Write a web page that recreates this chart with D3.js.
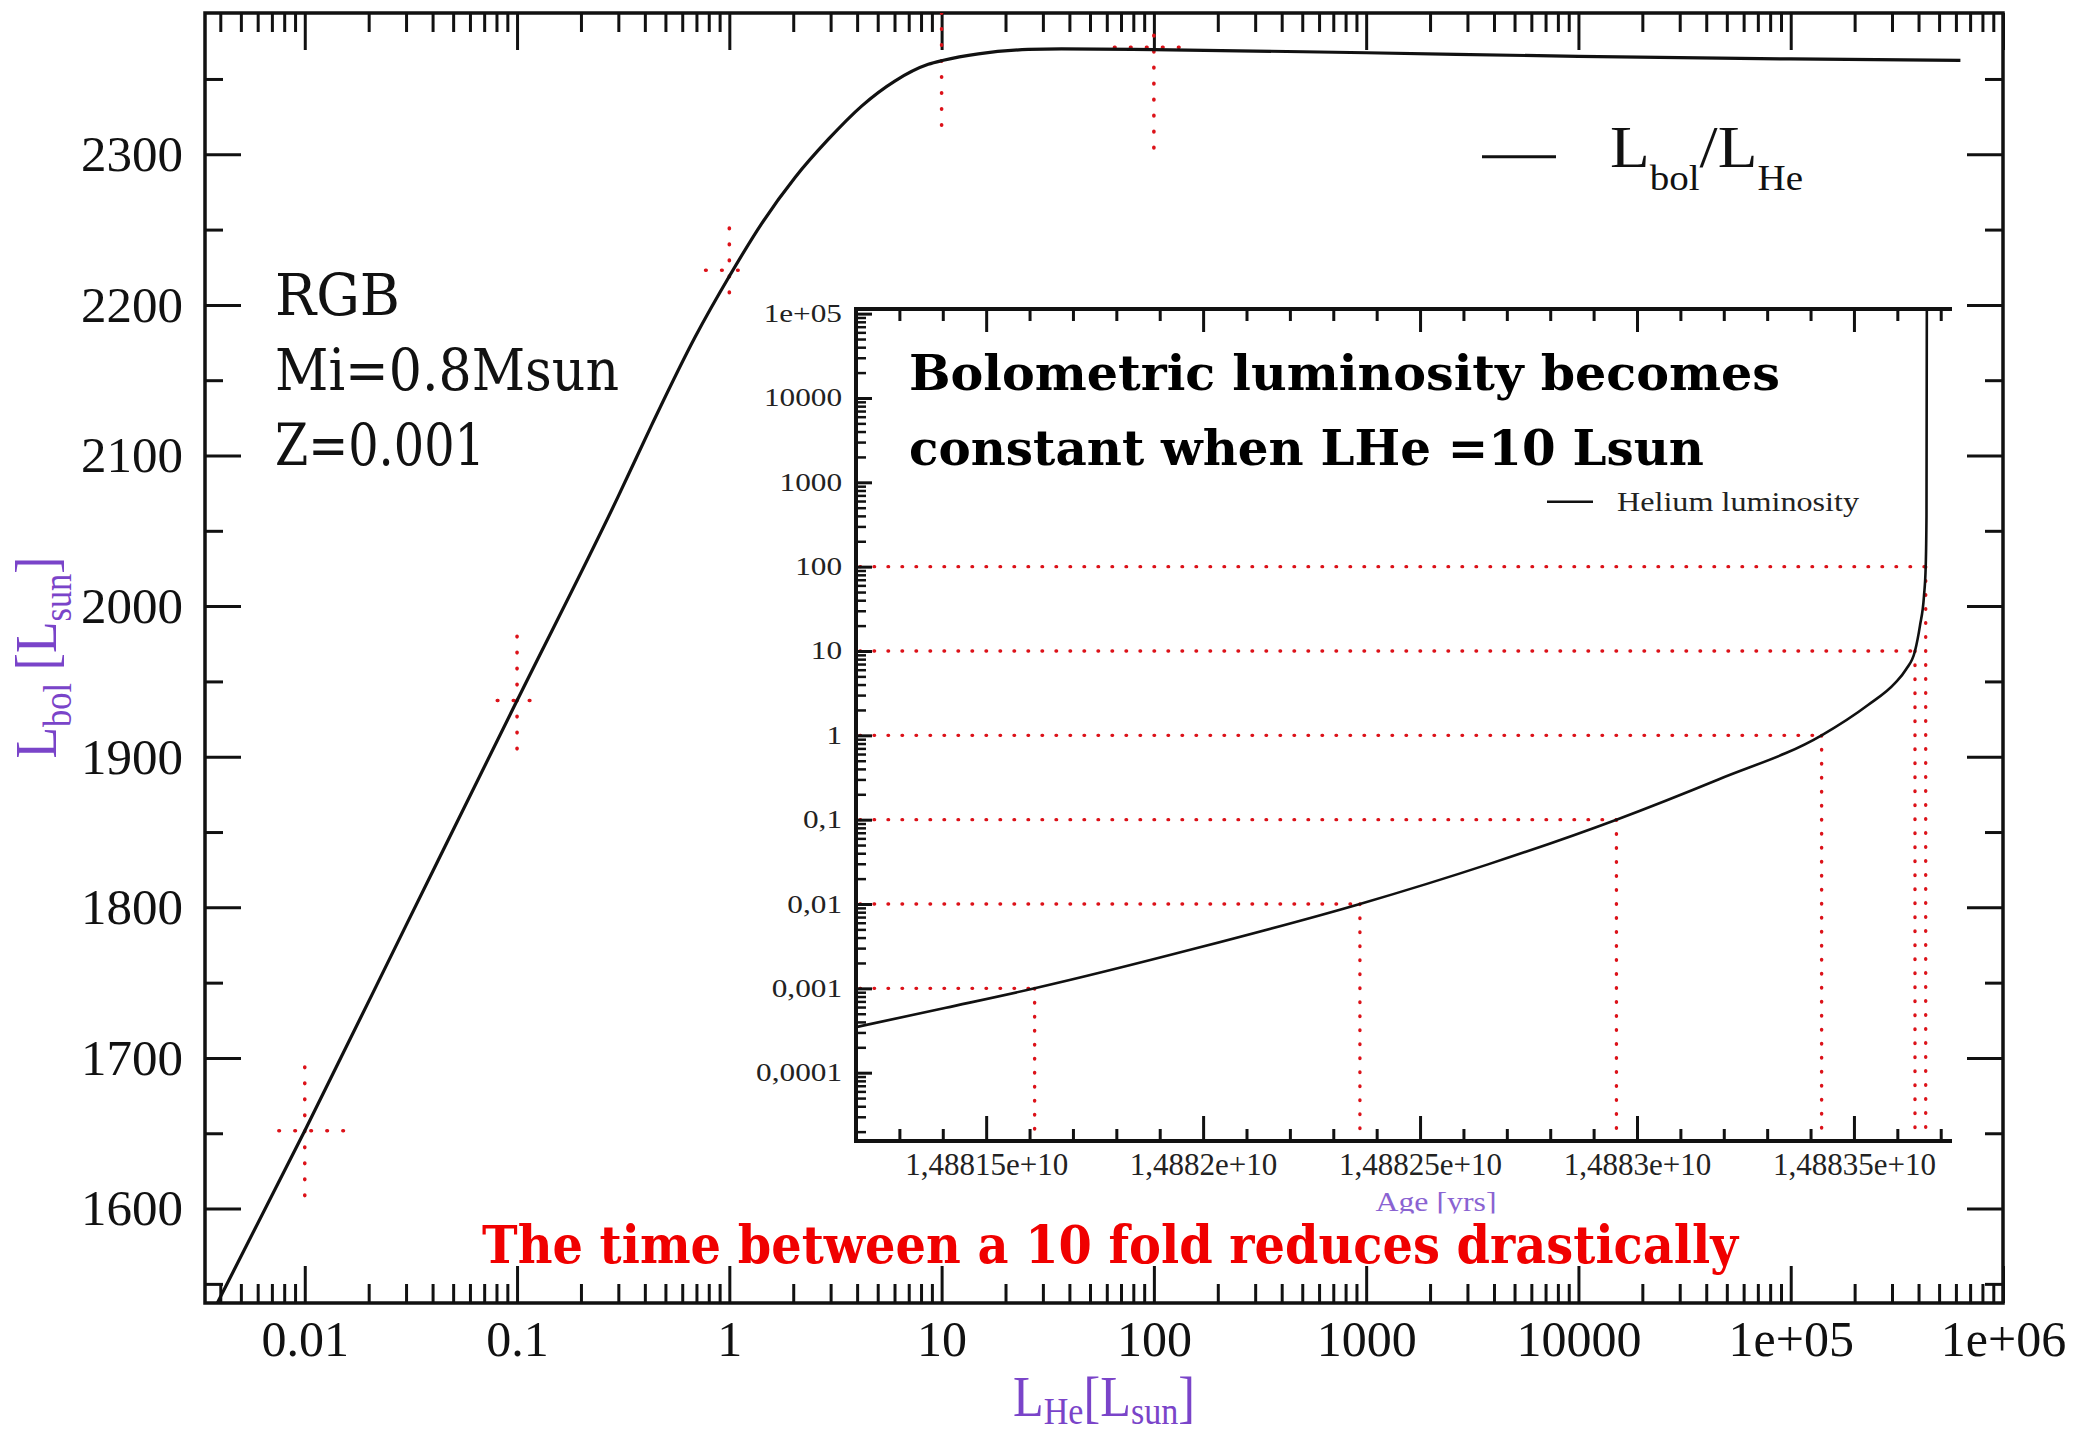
<!DOCTYPE html>
<html><head><meta charset="utf-8">
<script src="https://cdn.jsdelivr.net/npm/d3@7"></script>
<style>body{margin:0;background:#fff} svg{display:block}</style>
</head><body>
<svg id="c" width="2073" height="1434"></svg>
<script>
// ---------- DATA ----------
// Main plot: bolometric luminosity vs helium luminosity
const lHeMain  = [0.0038, 0.01, 0.03, 0.1, 0.3, 0.43, 0.689, 1, 1.42, 2.04, 2.93, 4.2, 6.02, 8.65, 10.2, 14.9, 25.6, 36.7, 100, 1000, 10000, 100000, 630000];
const lBolMain = [1535, 1651.7, 1788, 1937.3, 2073, 2120, 2178.5, 2219, 2254, 2284.6, 2310, 2332, 2348.6, 2359.7, 2362.4, 2366.7, 2369.6, 2370, 2369.5, 2367.4, 2365.0, 2363.3, 2362.4];

// Red dotted marker crosses on main plot
const crossX   = [0.01, 0.1, 1, 10, 100];
const crossY   = [1651.7, 1937.3, 2223, null, 2371];
const crossVLo = [1606, 1903.5, 2206.5, 2318, 2300.5];
const crossVHi = [1694, 1980, 2251, 2394, 2379];
const crossHLo = [0.00755, 0.0807, 0.773, null, 65.2];
const crossHHi = [0.0156, 0.1186, 1.10, null, 131.5];

// Main axes ticks
const xMajorMain = [0.01, 0.1, 1, 10, 100, 1000, 10000, 1e5, 1e6];
const xLabelsMain = ["0.01", "0.1", "1", "10", "100", "1000", "10000", "1e+05", "1e+06"];
const yMajorMain = [1600, 1700, 1800, 1900, 2000, 2100, 2200, 2300];
const yLabelsMain = ["1600", "1700", "1800", "1900", "2000", "2100", "2200", "2300"];
const yMinorMain = [1550, 1650, 1750, 1850, 1950, 2050, 2150, 2250, 2350];

// Inset: helium luminosity vs age
const ageHe = [1.48812e10, 1.48814074e10, 1.48816117e10, 1.48819882e10, 1.48823614e10, 1.48826566e10, 1.48829526e10, 1.4883189e10, 1.48834255e10, 1.48835324e10, 1.48835946e10, 1.48836199e10, 1.48836407e10, 1.48836522e10, 1.48836614e10, 1.48836654e10, 1.48836672e10, 1.4883668e10];
const lumHe = [3.47e-4, 5.89e-4, 1e-3, 3.02e-3, 0.01, 0.0295, 0.1, 0.302, 1, 2.29, 4.17, 6.03, 10, 20, 44.7, 100, 398, 1.13e5];

// Inset 10-fold levels and the ages where they are reached
const levels    = [0.001, 0.01, 0.1, 1, 10, 100];
const levelAges = [1.48816117e10, 1.48823614e10, 1.48829526e10, 1.48834255e10, 1.48836407e10, 1.48836654e10];

// Inset ticks
const ixMajor  = [1.48815e10, 1.4882e10, 1.48825e10, 1.4883e10, 1.48835e10];
const ixLabels = ["1,48815e+10", "1,4882e+10", "1,48825e+10", "1,4883e+10", "1,48835e+10"];
const iyMajor  = [1e5, 1e4, 1e3, 100, 10, 1, 0.1, 0.01, 0.001, 0.0001];
const iyLabels = ["1e+05", "10000", "1000", "100", "10", "1", "0,1", "0,01", "0,001", "0,0001"];

// ---------- DRAWING ----------
const svg = d3.select("#c");
svg.append("rect").attr("width", 2073).attr("height", 1434).attr("fill", "#fff");

const INK = "#111";
const RED = "#dc1219";
const PURPLE = "#7a44c9";
const SERIF = "'Liberation Serif', 'Times New Roman', serif";
const DJV = "'DejaVu Serif', serif";

// scales
const mx = d3.scaleLog().domain([Math.pow(10, -2.47), 1e6]).range([205, 2003]);
const my = d3.scaleLinear().domain([1537.3, 2393.8]).range([1303, 13]);
const ix = d3.scaleLinear().domain([1.48812e10, 1.4883726e10]).range([856, 1952]);
const iy = d3.scaleLog().domain([Math.pow(10, -4.81), Math.pow(10, 5.055)]).range([1141, 309]);

const defs = svg.append("defs");
defs.append("clipPath").attr("id", "mclip").append("rect")
  .attr("x", 205).attr("y", 13).attr("width", 1798).attr("height", 1290);
defs.append("clipPath").attr("id", "ageclip").append("rect")
  .attr("x", 1300).attr("y", 1150).attr("width", 300).attr("height", 63.5);

function clean(g, w) {
  g.select(".domain").remove();
  g.selectAll(".tick line").attr("stroke", INK).attr("stroke-width", w);
  g.selectAll(".tick text").attr("fill", INK);
  g.selectAll(".tick text").filter(function () { return !this.textContent; }).remove();
}
// horizontally scale a text element (anchored at x,y) to a target width
function fitWidth(t, x, y, target) {
  const w = t.node().getComputedTextLength();
  t.attr("transform", `translate(${x},${y}) scale(${target / w},1)`);
}

// minor tick values
const xMinorMain = [];
for (let d = -3; d <= 5; d++) for (let k = 2; k <= 9; k++) {
  const v = k * Math.pow(10, d);
  if (v > mx.domain()[0] && v < 1e6) xMinorMain.push(v);
}
const iyMinor = [];
for (let d = -5; d <= 4; d++) for (let k = 2; k <= 9; k++) {
  const v = k * Math.pow(10, d);
  if (v > iy.domain()[0] && v < iy.domain()[1]) iyMinor.push(v);
}
const ixMinor = d3.range(1.48813e10, 1.48837e10 + 1, 1e5).filter(v => !ixMajor.some(m => Math.abs(m - v) < 10));

// ---- main axes ----
svg.append("g").attr("transform", "translate(0,1303)")
  .call(d3.axisBottom(mx).tickValues(xMajorMain).tickFormat((d, i) => xLabelsMain[i]).tickSize(-37).tickPadding(17).tickSizeOuter(0))
  .call(g => clean(g, 3))
  .attr("font-family", SERIF).attr("font-size", 50);
svg.append("g").attr("transform", "translate(0,1303)")
  .call(d3.axisBottom(mx).tickValues(xMinorMain).tickFormat("").tickSize(-19).tickSizeOuter(0))
  .call(g => clean(g, 3));
svg.append("g").attr("transform", "translate(0,13)")
  .call(d3.axisTop(mx).tickValues(xMajorMain).tickFormat("").tickSize(-37).tickSizeOuter(0))
  .call(g => clean(g, 3));
svg.append("g").attr("transform", "translate(0,13)")
  .call(d3.axisTop(mx).tickValues(xMinorMain).tickFormat("").tickSize(-19).tickSizeOuter(0))
  .call(g => clean(g, 3));

svg.append("g").attr("transform", "translate(205,0)")
  .call(d3.axisLeft(my).tickValues(yMajorMain).tickFormat((d, i) => yLabelsMain[i]).tickSize(-36).tickPadding(22).tickSizeOuter(0))
  .call(g => clean(g, 3))
  .attr("font-family", SERIF).attr("font-size", 51);
svg.append("g").attr("transform", "translate(205,0)")
  .call(d3.axisLeft(my).tickValues(yMinorMain).tickFormat("").tickSize(-18).tickSizeOuter(0))
  .call(g => clean(g, 3));
svg.append("g").attr("transform", "translate(2003,0)")
  .call(d3.axisRight(my).tickValues(yMajorMain).tickFormat("").tickSize(-36).tickSizeOuter(0))
  .call(g => clean(g, 3));
svg.append("g").attr("transform", "translate(2003,0)")
  .call(d3.axisRight(my).tickValues(yMinorMain).tickFormat("").tickSize(-18).tickSizeOuter(0))
  .call(g => clean(g, 3));

// frame
svg.append("rect").attr("x", 205).attr("y", 13).attr("width", 1798).attr("height", 1290)
  .attr("fill", "none").attr("stroke", INK).attr("stroke-width", 3.5);

// main red crosses
const crossG = svg.append("g").attr("stroke", RED).attr("stroke-width", 3.6)
  .attr("stroke-linecap", "round").attr("stroke-dasharray", "0.6,15.4").attr("clip-path", "url(#mclip)");
crossX.forEach((cx, i) => {
  crossG.append("line").attr("x1", mx(cx)).attr("x2", mx(cx))
    .attr("y1", my(crossVHi[i])).attr("y2", my(crossVLo[i]));
  if (crossHLo[i] !== null) {
    crossG.append("line").attr("x1", mx(crossHLo[i])).attr("x2", mx(crossHHi[i]))
      .attr("y1", my(crossY[i])).attr("y2", my(crossY[i]));
  }
});

// main curve
svg.append("path").datum(d3.zip(lHeMain, lBolMain))
  .attr("clip-path", "url(#mclip)")
  .attr("d", d3.line().x(d => mx(d[0])).y(d => my(d[1])).curve(d3.curveMonotoneX))
  .attr("fill", "none").attr("stroke", INK).attr("stroke-width", 3.2);

// main legend
svg.append("line").attr("x1", 1482).attr("x2", 1556).attr("y1", 156.7).attr("y2", 156.7)
  .attr("stroke", INK).attr("stroke-width", 3);
{
  const t = svg.append("text").attr("font-family", SERIF).attr("fill", INK);
  t.append("tspan").attr("font-size", 60).text("L");
  t.append("tspan").attr("font-size", 36).attr("dy", 23).text("bol");
  t.append("tspan").attr("font-size", 60).attr("dy", -23).text("/L");
  t.append("tspan").attr("font-size", 36).attr("dy", 23).text("He");
  fitWidth(t, 1610, 166.7, 193);
}

// axis titles
{
  const t = svg.append("text").attr("text-anchor", "middle").attr("font-family", SERIF).attr("fill", PURPLE);
  t.append("tspan").attr("font-size", 56).text("L");
  t.append("tspan").attr("font-size", 38).attr("dy", 8).text("He");
  t.append("tspan").attr("font-size", 56).attr("dy", -8).text("[L");
  t.append("tspan").attr("font-size", 38).attr("dy", 8).text("sun");
  t.append("tspan").attr("font-size", 56).attr("dy", -8).text("]");
  fitWidth(t, 1104, 1416, 182);
}
{
  const t = svg.append("text").attr("text-anchor", "middle").attr("font-family", SERIF).attr("fill", PURPLE);
  t.append("tspan").attr("font-size", 60).text("L");
  t.append("tspan").attr("font-size", 40).attr("dy", 15).text("bol");
  t.append("tspan").attr("font-size", 60).attr("dy", -15).text(" [L");
  t.append("tspan").attr("font-size", 40).attr("dy", 15).text("sun");
  t.append("tspan").attr("font-size", 60).attr("dy", -15).text("]");
  const w = t.node().getComputedTextLength();
  t.attr("transform", `translate(56,657.5) rotate(-90) scale(${202 / w},1)`);
}

// RGB annotation
const rgbLines = ["RGB", "Mi=0.8Msun", "Z=0.001"];
const rgbY = [315, 390, 465], rgbW = [125, 344, 210];
rgbLines.forEach((s, i) => {
  svg.append("text").attr("x", 275).attr("y", rgbY[i]).attr("font-family", DJV).attr("font-size", 57)
    .attr("fill", INK).attr("textLength", rgbW[i]).attr("lengthAdjust", "spacingAndGlyphs").text(s);
});

// ---------- INSET ----------
const levG = svg.append("g").attr("stroke", RED).attr("stroke-width", 3.4)
  .attr("stroke-linecap", "round").attr("stroke-dasharray", "0.6,13.4");
levels.forEach((lv, i) => {
  levG.append("line").attr("x1", 860).attr("x2", ix(levelAges[i])).attr("y1", iy(lv)).attr("y2", iy(lv));
  levG.append("line").attr("x1", ix(levelAges[i])).attr("x2", ix(levelAges[i])).attr("y1", iy(lv)).attr("y2", 1138);
});

// inset axes
svg.append("g").attr("transform", "translate(856,0)")
  .call(d3.axisLeft(iy).tickValues(iyMajor).tickFormat((d, i) => iyLabels[i]).tickSize(-16).tickPadding(14).tickSizeOuter(0))
  .call(g => clean(g, 3))
  .attr("font-family", SERIF).attr("font-size", 25)
  .call(g => g.selectAll(".tick text").attr("fill", "#222").each(function () {
    const w = this.getComputedTextLength();
    this.setAttribute("textLength", w * 1.25);
    this.setAttribute("lengthAdjust", "spacingAndGlyphs");
  }));
svg.append("g").attr("transform", "translate(856,0)")
  .call(d3.axisLeft(iy).tickValues(iyMinor).tickFormat("").tickSize(-10).tickSizeOuter(0))
  .call(g => clean(g, 2.5));

svg.append("g").attr("transform", "translate(0,1141)")
  .call(d3.axisBottom(ix).tickValues(ixMajor).tickFormat((d, i) => ixLabels[i]).tickSize(-25).tickPadding(12).tickSizeOuter(0))
  .call(g => clean(g, 3))
  .attr("font-family", SERIF).attr("font-size", 31)
  .call(g => g.selectAll(".tick text").attr("fill", "#222"));
svg.append("g").attr("transform", "translate(0,1141)")
  .call(d3.axisBottom(ix).tickValues(ixMinor).tickFormat("").tickSize(-12).tickSizeOuter(0))
  .call(g => clean(g, 3));
svg.append("g").attr("transform", "translate(0,309)")
  .call(d3.axisTop(ix).tickValues(ixMajor).tickFormat("").tickSize(-23).tickSizeOuter(0))
  .call(g => clean(g, 3));
svg.append("g").attr("transform", "translate(0,309)")
  .call(d3.axisTop(ix).tickValues(ixMinor).tickFormat("").tickSize(-12).tickSizeOuter(0))
  .call(g => clean(g, 3));

// inset axis lines
const axl = svg.append("g").attr("stroke", INK).attr("stroke-width", 4).attr("fill", "none");
axl.append("line").attr("x1", 856).attr("x2", 856).attr("y1", 307).attr("y2", 1143);
axl.append("line").attr("x1", 854).attr("x2", 1952).attr("y1", 1141).attr("y2", 1141);
axl.append("line").attr("x1", 854).attr("x2", 1952).attr("y1", 309).attr("y2", 309);

// inset curve
svg.append("path").datum(d3.zip(ageHe, lumHe))
  .attr("d", d3.line().x(d => ix(d[0])).y(d => iy(d[1])).curve(d3.curveMonotoneX))
  .attr("fill", "none").attr("stroke", INK).attr("stroke-width", 2.6);

// inset legend
svg.append("line").attr("x1", 1547).attr("x2", 1593).attr("y1", 501.7).attr("y2", 501.7)
  .attr("stroke", INK).attr("stroke-width", 2.5);
svg.append("text").attr("x", 1617).attr("y", 511).attr("font-family", SERIF).attr("font-size", 27)
  .attr("fill", "#222").attr("textLength", 242).attr("lengthAdjust", "spacingAndGlyphs").text("Helium luminosity");

// inset x title (clipped at bottom as in the original)
svg.append("text").attr("x", 1436).attr("y", 1211).attr("text-anchor", "middle")
  .attr("clip-path", "url(#ageclip)")
  .attr("font-family", SERIF).attr("font-size", 28).attr("fill", "#8a63d2")
  .attr("textLength", 121).attr("lengthAdjust", "spacingAndGlyphs").text("Age [yrs]");

// bold inset annotation
svg.append("text").attr("x", 909).attr("y", 390).attr("font-family", DJV).attr("font-weight", "bold")
  .attr("font-size", 48).attr("fill", "#000").attr("textLength", 871).attr("lengthAdjust", "spacingAndGlyphs")
  .text("Bolometric luminosity becomes");
svg.append("text").attr("x", 909).attr("y", 465).attr("font-family", DJV).attr("font-weight", "bold")
  .attr("font-size", 48).attr("fill", "#000").attr("textLength", 795).attr("lengthAdjust", "spacingAndGlyphs")
  .text("constant when LHe =10 Lsun");

// red note
svg.append("text").attr("x", 482).attr("y", 1263).attr("font-family", DJV).attr("font-weight", "bold")
  .attr("font-size", 52).attr("fill", "#f00000").attr("textLength", 1256).attr("lengthAdjust", "spacingAndGlyphs")
  .text("The time between a 10 fold reduces drastically");
</script>
</body></html>
